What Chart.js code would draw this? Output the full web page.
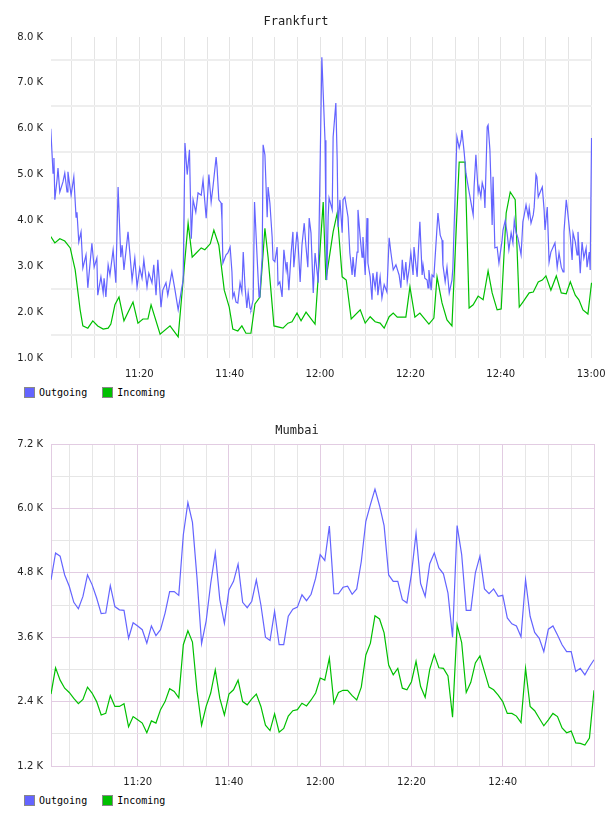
<!DOCTYPE html>
<html>
<head>
<meta charset="utf-8">
<script src="https://cdn.jsdelivr.net/npm/chart.js@4.4.0/dist/chart.umd.min.js"></script>
<style>
body { margin: 0; background: #fff; }
#wrap { position: relative; width: 608px; height: 816px; }
canvas { position: absolute; left: 0; }
.legend { position: absolute; left: 24px; display: flex; align-items: center; font: 10px "DejaVu Sans Mono", monospace; color: #000; line-height: 11px; }
.legend .item { display: flex; align-items: center; margin-right: 15px; }
.legend .box { display: inline-block; width: 9px; height: 9px; border: 1px solid #888; margin-right: 4px; }
</style>
</head>
<body>
<div id="wrap">
  <canvas id="frankfurt" width="608" height="384" style="top:0"></canvas>
  <div class="legend" style="top:387px">
    <span class="item"><span class="box" style="background:#6464ff"></span>Outgoing</span>
    <span class="item"><span class="box" style="background:#00c000"></span>Incoming</span>
  </div>
  <canvas id="mumbai" width="608" height="385" style="top:407px"></canvas>
  <div class="legend" style="top:795px">
    <span class="item"><span class="box" style="background:#6464ff"></span>Outgoing</span>
    <span class="item"><span class="box" style="background:#00c000"></span>Incoming</span>
  </div>
</div>
<script>
// minutes after 11:00, values in K
const frankfurtOutMin = [
  0.4, 0.9, 1.1, 1.3, 1.8, 2.0, 2.4, 3.1, 3.5, 4.0,
  4.2, 4.9, 5.5, 6.0, 6.2, 6.6, 7.1, 7.5, 8.2, 8.6,
  9.5, 10.0, 10.6, 10.8, 11.5, 12.0, 12.2, 12.6, 13.1, 13.5,
  14.2, 14.8, 15.3, 15.9, 16.2, 16.6, 17.5, 17.9, 18.4, 19.0,
  19.5, 20.1, 20.6, 21.0, 21.7, 22.1, 22.8, 23.2, 23.7, 24.1,
  24.8, 25.2, 25.9, 26.3, 27.2, 27.9, 28.6, 29.4, 29.7, 30.1,
  30.6, 31.1, 31.5, 31.9, 32.5, 33.0, 33.7, 34.1, 34.8, 35.4,
  35.9, 36.3, 37.0, 37.2, 37.6, 38.1, 38.3, 38.5, 39.2, 39.6,
  40.1, 40.5, 40.7, 41.0, 41.4, 41.8, 42.3, 42.7, 43.0, 43.4,
  43.8, 44.1, 44.5, 44.7, 45.2, 45.5, 46.1, 46.5, 46.7, 47.2,
  47.4, 47.8, 48.3, 48.5, 48.9, 49.4, 49.6, 50.0, 50.5, 50.7,
  51.1, 51.6, 52.0, 52.5, 52.7, 53.1, 53.6, 54.0, 54.2, 54.9,
  55.1, 55.6, 56.0, 56.5, 56.9, 57.3, 57.6, 58.0, 58.5, 58.9,
  59.3, 59.6, 60.4, 61.1, 61.3, 61.5, 61.8, 62.0, 62.7, 62.9,
  63.5, 63.8, 64.0, 64.4, 64.9, 65.1, 65.5, 66.2, 66.6, 67.1,
  67.3, 67.7, 68.2, 68.4, 68.9, 69.3, 69.5, 70.0, 70.4, 70.6,
  71.1, 71.5, 71.7, 72.2, 72.6, 72.8, 73.3, 73.7, 74.2, 74.8,
  75.3, 75.7, 76.2, 76.8, 77.5, 77.9, 78.2, 78.6, 79.0, 79.3,
  79.7, 80.1, 80.6, 80.8, 81.5, 81.7, 82.1, 82.6, 82.8, 83.2,
  83.7, 83.9, 84.1, 84.6, 84.8, 85.2, 86.1, 86.6, 87.0, 87.2,
  87.7, 88.1, 88.6, 89.2, 89.4, 90.3, 90.8, 91.2, 91.4, 91.9,
  92.3, 92.8, 93.4, 93.9, 94.1, 94.5, 95.0, 95.2, 95.6, 95.9,
  96.3, 96.5, 97.0, 97.2, 97.6, 97.9, 98.1, 98.3, 98.7, 99.2,
  99.6, 100.3, 100.5, 101.0, 101.4, 101.8, 102.3, 102.7, 103.0, 103.4,
  103.8, 104.5, 104.9, 105.2, 105.6, 106.1, 106.3, 106.7, 107.2, 107.4,
  107.8, 108.0, 108.3, 108.9, 109.2, 109.6, 109.8, 110.3, 110.7, 111.1,
  111.6, 112.0, 112.5, 112.9, 113.4, 113.8, 114.0, 114.5, 114.7, 115.4,
  115.8, 116.0, 116.5, 116.9, 117.1, 117.6, 118.0, 118.4, 118.9, 119.1,
  119.6, 119.8, 120.1
];
const frankfurtOut = [
  6.0, 5.03, 5.36, 4.45, 4.9, 5.14, 4.62, 4.84, 5.03, 4.62,
  5.06, 4.55, 4.95, 4.07, 4.18, 3.53, 3.75, 2.96, 3.25, 2.53,
  3.5, 2.98, 3.18, 2.37, 2.77, 2.42, 2.74, 2.33, 3.03, 2.81,
  3.36, 2.64, 4.73, 3.2, 3.46, 2.92, 3.75, 3.29, 2.7, 3.18,
  2.55, 2.96, 2.74, 3.14, 2.55, 2.85, 2.64, 3.03, 2.37, 3.14,
  2.11, 2.48, 2.64, 2.37, 2.88, 2.48, 2.05, 2.53, 2.7, 5.69,
  5.0, 5.54, 3.6, 4.45, 4.18, 4.6, 4.55, 4.88, 4.05, 5.0,
  4.4, 4.73, 5.38, 5.16, 4.45, 4.38, 4.0, 3.07, 3.25, 3.29,
  3.42, 2.88, 2.33, 2.42, 2.22, 2.2, 2.64, 2.44, 3.31, 2.55,
  2.09, 2.42, 2.09, 2.05, 2.27, 4.4, 3.14, 2.33, 2.42, 3.2,
  5.65, 5.43, 4.07, 4.73, 4.38, 3.64, 3.14, 3.1, 3.42, 2.6,
  2.66, 2.33, 3.36, 2.92, 3.09, 2.48, 3.29, 3.75, 2.98, 3.75,
  3.57, 2.66, 3.46, 3.94, 3.42, 2.98, 4.05, 3.73, 2.42, 3.29,
  2.92, 2.64, 7.56, 5.75, 4.07, 2.7, 4.07, 4.49, 4.23, 5.82,
  6.56, 5.32, 3.86, 4.45, 3.73, 4.45, 4.51, 4.07, 3.29, 2.81,
  3.2, 2.77, 3.31, 4.23, 3.62, 3.2, 3.64, 2.81, 4.05, 3.07,
  2.77, 2.27, 2.85, 2.53, 2.88, 2.37, 2.77, 2.31, 2.6, 2.44,
  3.62, 3.29, 2.92, 3.03, 2.81, 2.53, 3.14, 2.7, 3.09, 2.66,
  2.92, 3.29, 2.81, 3.42, 2.77, 3.2, 3.97, 2.81, 3.03, 2.74,
  2.7, 2.53, 2.92, 2.48, 2.81, 2.77, 4.16, 3.68, 3.57, 3.03,
  2.66, 2.98, 2.42, 2.7, 2.96, 5.82, 5.58, 5.75, 5.97, 5.49,
  5.03, 4.73, 4.4, 4.12, 4.73, 5.43, 4.62, 4.73, 4.51, 4.82,
  4.66, 4.27, 6.04, 6.08, 5.54, 4.6, 3.9, 4.95, 3.4, 3.42,
  3.07, 3.57, 3.79, 4.0, 3.73, 3.36, 3.73, 3.51, 4.0, 3.73,
  3.62, 3.25, 3.97, 4.12, 4.34, 4.07, 4.27, 3.94, 4.12, 4.29,
  5.0, 4.95, 4.51, 4.66, 4.73, 4.23, 3.79, 4.29, 3.09, 3.31,
  3.42, 3.51, 2.98, 3.29, 2.98, 2.88, 3.75, 4.45, 4.29, 3.64,
  3.14, 3.73, 3.53, 3.25, 3.75, 2.85, 3.53, 3.18, 3.4, 2.98,
  3.31, 2.92, 5.8
];
const frankfurtInMin = [
  0.4, 1.3, 2.4, 3.5, 4.7, 5.8, 6.9, 7.5, 8.6, 9.7,
  10.8, 12.0, 13.1, 13.7, 14.6, 15.5, 16.6, 18.6, 19.7, 20.8,
  21.9, 22.6, 24.6, 26.8, 28.6, 30.8, 31.7, 32.6, 33.7, 34.5,
  35.7, 36.5, 37.6, 38.8, 39.9, 40.7, 41.8, 42.7, 43.6, 44.7,
  45.6, 46.7, 47.8, 48.5, 49.8, 51.8, 52.9, 53.8, 54.9, 55.8,
  56.9, 58.9, 60.7, 61.3, 62.9, 63.8, 64.9, 65.8, 66.9, 68.9,
  70.0, 71.1, 72.2, 73.3, 74.2, 75.3, 76.2, 77.1, 78.2, 79.0,
  79.9, 81.0, 82.1, 84.1, 85.2, 85.9, 87.0, 88.1, 89.2, 90.8,
  92.1, 93.0, 93.9, 95.0, 96.1, 97.2, 98.1, 99.2, 100.1, 101.2,
  102.1, 103.2, 104.1, 104.9, 106.3, 107.2, 108.3, 109.2, 110.0, 111.1,
  112.3, 113.4, 114.5, 115.4, 116.5, 117.3, 118.2, 119.3, 120.1
];
const frankfurtIn = [
  3.65, 3.51, 3.6, 3.55, 3.4, 2.92, 2.05, 1.7, 1.65, 1.81,
  1.7, 1.63, 1.65, 1.74, 2.16, 2.33, 1.81, 2.22, 1.76, 1.85,
  1.85, 2.16, 1.52, 1.7, 1.46, 3.94, 3.2, 3.29, 3.4, 3.36,
  3.49, 3.79, 3.46, 2.48, 2.11, 1.63, 1.59, 1.7, 1.54, 1.54,
  2.18, 2.33, 3.83, 3.2, 1.7, 1.65, 1.76, 1.79, 1.98, 1.81,
  2.0, 1.74, 4.4, 2.7, 3.75, 4.16, 2.77, 2.7, 1.85, 2.05,
  1.76, 1.9, 1.79, 1.76, 1.65, 1.9, 1.98, 1.89, 1.89, 1.89,
  2.55, 1.89, 1.98, 1.74, 1.87, 2.77, 2.2, 1.83, 1.7, 5.27,
  5.27, 2.09, 2.16, 2.35, 2.27, 2.9, 2.42, 2.05, 2.07, 4.16,
  4.62, 4.45, 2.11, 2.22, 2.42, 2.44, 2.66, 2.7, 2.79, 2.48,
  2.79, 2.42, 2.4, 2.66, 2.37, 2.27, 2.05, 1.96, 2.64
];
// Mumbai: one sample per minute, starting 11:01
const mumbaiOut = [
  4.67, 5.17, 5.11, 4.76, 4.55, 4.25, 4.13, 4.36, 4.76, 4.58,
  4.33, 4.04, 4.05, 4.56, 4.17, 4.11, 4.10, 3.58, 3.87, 3.81,
  3.74, 3.49, 3.81, 3.63, 3.74, 4.05, 4.45, 4.45, 4.38, 5.51,
  6.11, 5.74, 4.70, 3.48, 3.90, 4.60, 5.17, 4.30, 3.86, 4.48,
  4.64, 4.96, 4.25, 4.15, 4.27, 4.67, 4.20, 3.60, 3.54, 4.08,
  3.46, 3.46, 3.99, 4.12, 4.16, 4.39, 4.28, 4.40, 4.70, 5.14,
  5.03, 5.67, 4.41, 4.41, 4.53, 4.55, 4.40, 4.50, 5.01, 5.76,
  6.07, 6.36, 6.05, 5.68, 4.76, 4.64, 4.64, 4.30, 4.24, 4.78,
  5.54, 4.60, 4.36, 4.97, 5.17, 4.89, 4.78, 4.42, 3.60, 5.68,
  5.14, 4.10, 4.10, 4.80, 5.11, 4.50, 4.41, 4.50, 4.36, 4.38,
  3.96, 3.85, 3.81, 3.61, 4.67, 3.99, 3.69, 3.58, 3.33, 3.75,
  3.81, 3.64, 3.46, 3.33, 3.33, 2.96, 3.02, 2.90, 3.05, 3.18
];
const mumbaiIn = [
  2.54, 3.03, 2.80, 2.65, 2.57, 2.46, 2.36, 2.44, 2.67, 2.56,
  2.40, 2.15, 2.18, 2.51, 2.31, 2.31, 2.36, 1.93, 2.12, 2.06,
  2.00, 1.82, 2.04, 2.00, 2.25, 2.40, 2.64, 2.59, 2.47, 3.46,
  3.72, 3.51, 2.60, 1.96, 2.31, 2.56, 2.99, 2.46, 2.15, 2.54,
  2.62, 2.80, 2.40, 2.34, 2.45, 2.54, 2.31, 1.96, 1.86, 2.17,
  1.83, 1.90, 2.13, 2.23, 2.25, 2.37, 2.32, 2.43, 2.56, 2.84,
  2.80, 3.21, 2.37, 2.57, 2.61, 2.61, 2.51, 2.43, 2.67, 3.27,
  3.49, 4.00, 3.94, 3.68, 3.08, 2.90, 3.02, 2.65, 2.62, 2.77,
  3.15, 2.68, 2.48, 3.00, 3.28, 3.03, 3.02, 2.88, 2.11, 3.83,
  3.50, 2.57, 2.76, 3.12, 3.25, 2.96, 2.67, 2.62, 2.52, 2.40,
  2.18, 2.18, 2.13, 2.01, 3.02, 2.31, 2.23, 2.09, 1.95, 2.06,
  2.18, 2.12, 1.91, 1.82, 1.85, 1.63, 1.62, 1.59, 1.72, 2.61
];
const frankfurtTicks = ['11:20', '11:40', '12:00', '12:20', '12:40', '13:00'];
const mumbaiTicks = ['11:20', '11:40', '12:00', '12:20', '12:40'];

const outColor = '#6464ff';
const inColor = '#00c000';
const tickFont = { family: 'DejaVu Sans', size: 10 };
const titleFont = { family: 'DejaVu Sans Mono', size: 12, weight: 'normal' };

function clock(m) {
    const h = 11 + Math.floor(m / 60);
    return h + ':' + String(m % 60).padStart(2, '0');
}

function pairs(xs, ys) {
    return xs.map((x, i) => ({ x: x, y: ys[i] }));
}

function range(from, to, step) {
    const out = [];
    for (let v = from; v <= to + 1e-9; v += step) out.push(Math.round(v * 10) / 10);
    return out;
}

function lineSet(label, data, color) {
    return {
        label: label,
        data: data,
        borderColor: color,
        backgroundColor: color,
        borderWidth: 1.2,
        pointRadius: 0,
        tension: 0,
        fill: false
    };
}

// Frankfurt
new Chart(document.getElementById('frankfurt').getContext('2d'), {
    type: 'line',
    data: {
        datasets: [
            lineSet('Outgoing', pairs(frankfurtOutMin, frankfurtOut), outColor),
            lineSet('Incoming', pairs(frankfurtInMin, frankfurtIn), inColor)
        ]
    },
    options: {
        responsive: false,
        animation: false,
        devicePixelRatio: 1,
        layout: { padding: { left: 0, right: 16, top: 0, bottom: 0 } },
        plugins: {
            legend: { display: false },
            tooltip: { enabled: false },
            title: { display: true, text: 'Frankfurt', color: '#222', font: titleFont, padding: { top: 15, bottom: 7.6 } }
        },
        scales: {
            x: {
                type: 'linear', min: 0.45, max: 120.2,
                afterBuildTicks: s => { s.ticks = range(5, 120, 5).map(v => ({ value: v })); },
                afterFit: s => { s.height = 26; s.paddingLeft = 0; s.paddingRight = 0; },
                border: { display: false },
                grid: { color: '#e4e4e4', drawTicks: false },
                ticks: {
                    autoSkip: false, maxRotation: 0, padding: 10, color: '#222', font: tickFont,
                    callback: v => frankfurtTicks.includes(clock(v)) ? clock(v) : ''
                }
            },
            y: {
                min: 1, max: 8,
                afterBuildTicks: s => { s.ticks = range(1, 8, 0.5).map(v => ({ value: v })); },
                afterFit: s => { s.width = 51; s.paddingTop = 0; s.paddingBottom = 0; },
                border: { display: false },
                grid: {
                    drawTicks: false, lineWidth: 2,
                    color: ctx => Math.round(ctx.tick.value * 10) % 10 === 0 ? 'rgba(0,0,0,0)' : '#eeeeee'
                },
                ticks: {
                    padding: 8, color: '#222', font: tickFont,
                    callback: v => Math.round(v * 10) % 10 === 0 ? v.toFixed(1) + ' K' : ''
                }
            }
        }
    }
});

// Mumbai
const lilac = '#e2cce2';
const pale = '#e6e6e6';
new Chart(document.getElementById('mumbai').getContext('2d'), {
    type: 'line',
    data: {
        datasets: [
            lineSet('Outgoing', mumbaiOut.map((v, i) => ({ x: i + 1, y: v })), outColor),
            lineSet('Incoming', mumbaiIn.map((v, i) => ({ x: i + 1, y: v })), inColor)
        ]
    },
    options: {
        responsive: false,
        animation: false,
        devicePixelRatio: 1,
        layout: { padding: { left: 0, right: 14, top: 0, bottom: 0 } },
        plugins: {
            legend: { display: false },
            tooltip: { enabled: false },
            title: { display: true, text: 'Mumbai', color: '#222', font: titleFont, padding: { top: 16.8, bottom: 5.8 } }
        },
        scales: {
            x: {
                type: 'linear', min: 1, max: 120,
                afterBuildTicks: s => { s.ticks = range(5, 120, 5).map(v => ({ value: v })); },
                afterFit: s => { s.height = 26; s.paddingLeft = 0; s.paddingRight = 0; },
                border: { display: true, color: lilac },
                grid: {
                    drawTicks: false,
                    color: ctx => ctx.tick.value % 20 === 0 ? lilac : pale
                },
                ticks: {
                    autoSkip: false, maxRotation: 0, padding: 10, color: '#222', font: tickFont,
                    callback: v => mumbaiTicks.includes(clock(v)) ? clock(v) : ''
                }
            },
            y: {
                min: 1.2, max: 7.2,
                afterBuildTicks: s => { s.ticks = range(1.2, 7.2, 0.6).map(v => ({ value: v })); },
                afterFit: s => { s.width = 51; s.paddingTop = 0; s.paddingBottom = 0; },
                border: { display: true, color: lilac },
                grid: {
                    drawTicks: false,
                    color: ctx => Math.round(ctx.tick.value * 10) % 12 === 0 ? lilac : pale
                },
                ticks: {
                    padding: 8, color: '#222', font: tickFont,
                    callback: v => Math.round(v * 10) % 12 === 0 ? v.toFixed(1) + ' K' : ''
                }
            }
        }
    }
});
</script>
</body>
</html>
